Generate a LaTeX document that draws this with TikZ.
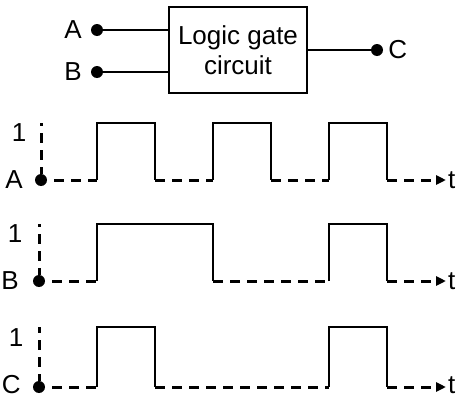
\documentclass[tikz,border=0pt]{standalone}
\usepackage{fontspec}
\setmainfont{Liberation Sans}
\usetikzlibrary{arrows.meta, positioning}

\tikzset{
  wave/.style={line width=2pt},
  zero/.style={line width=3pt, dash pattern=on 10pt off 7pt},
  pin/.style={circle, fill, inner sep=0pt, minimum size=12pt},
  lbl/.style={font=\fontsize{26}{30}\selectfont, inner sep=0pt}
}

\begin{document}
\begin{tikzpicture}[x=1pt, y=-1pt]
            \useasboundingbox (0,0) rectangle (459,399);

            % 逻辑门电路
            \node[draw, line width=2pt, minimum width=138pt, minimum height=86pt, inner sep=0pt,
                  align=center, font=\fontsize{26}{30}\selectfont] (gate) at (238,50) {Logic gate\\circuit};
            \node[pin] (inA) at (97,30) {};
            \node[pin] (inB) at (97,72) {};
            \node[pin] (outC) at (377,50) {};
            \draw[wave] (inA) -- (inA -| gate.west);
            \draw[wave] (inB) -- (inB -| gate.west);
            \draw[wave] (gate.east) -- (outC);
            \node[lbl, left=9pt of inA] {A};
            \node[lbl, left=9pt of inB] {B};
            \node[lbl, right=5pt of outC] {C};

            % A 的波形
            \node[pin] (A0) at (41,180) {};
            \coordinate (A1) at (41,123);
            \coordinate (Aend) at (446,180);
            \draw[zero, dash phase=3pt] (A0.north) -- (A1);
            \draw[zero, dash phase=10pt] (A0.east) -- (97,180);
            \draw[wave] (97,180) -- (97,123) -- (155,123) -- (155,180);
            \draw[zero] (155,180) -- (213,180);
            \draw[wave] (213,180) -- (213,123) -- (271,123) -- (271,180);
            \draw[zero] (271,180) -- (329,180);
            \draw[wave] (329,180) -- (329,123) -- (387,123) -- (387,180);
            \draw[zero, -{Triangle[length=10pt, width=9pt]}] (387,180) -- (Aend);
            \node[lbl, left=12pt of A0] {A};
            \node[lbl] at (19,133) {1};
            \node[lbl, right=2pt of Aend] {t};

            % B 的波形
            \node[pin] (B0) at (39,281) {};
            \coordinate (B1) at (39,224);
            \coordinate (Bend) at (446,281);
            \draw[zero, dash phase=3pt] (B0.north) -- (B1);
            \draw[zero, dash phase=10pt] (B0.east) -- (97,281);
            \draw[wave] (97,281) -- (97,224) -- (213,224) -- (213,281);
            \draw[zero] (213,281) -- (329,281);
            \draw[wave] (329,281) -- (329,224) -- (387,224) -- (387,281);
            \draw[zero, -{Triangle[length=10pt, width=9pt]}] (387,281) -- (Bend);
            \node[lbl, left=14pt of B0] {B};
            \node[lbl] at (15,234) {1};
            \node[lbl, right=2pt of Bend] {t};

            % C 的波形
            \node[pin] (C0) at (39,387) {};
            \coordinate (C1) at (39,327);
            \coordinate (Cend) at (446,387);
            \draw[zero, dash phase=3pt] (C0.north) -- (C1);
            \draw[zero, dash phase=10pt] (C0.east) -- (97,387);
            \draw[wave] (97,387) -- (97,327) -- (155,327) -- (155,387);
            \draw[zero] (155,387) -- (329,387);
            \draw[wave] (329,387) -- (329,327) -- (387,327) -- (387,387);
            \draw[zero, -{Triangle[length=10pt, width=9pt]}] (387,387) -- (Cend);
            \node[lbl, left=12pt of C0, yshift=2pt] {C};
            \node[lbl] at (16,338) {1};
            \node[lbl, right=2pt of Cend, yshift=2pt] {t};
        \end{tikzpicture}
\end{document}
